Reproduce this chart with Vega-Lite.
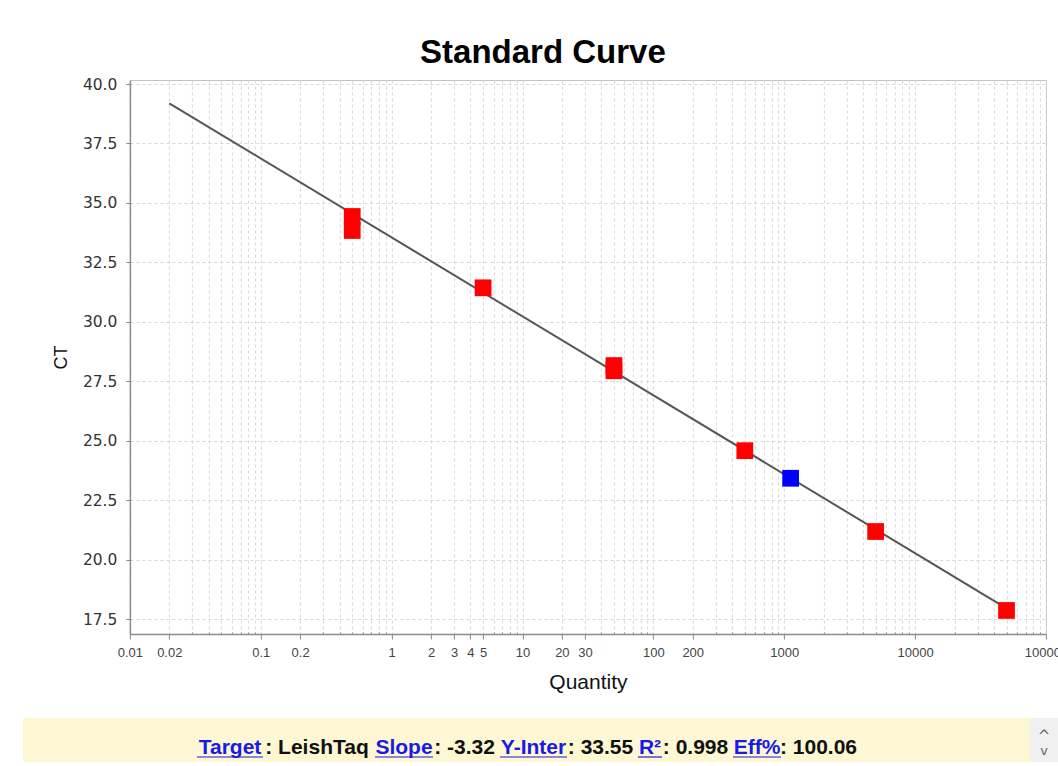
{
  "$schema": "https://vega.github.io/schema/vega-lite/v6.json",
  "padding": {"left": 23, "top": 36, "right": 0, "bottom": 0},
  "background": "white",
  "config": {
    "view": {"stroke": null},
    "font": "Liberation Sans"
  },
  "datasets": {
    "fit": [
      {"quantity": 0.02, "ct": 39.19},
      {"quantity": 50000, "ct": 17.95}
    ],
    "wells": [
      {"quantity": 0.5, "ct": 34.43, "role": "Standard"},
      {"quantity": 0.5, "ct": 33.84, "role": "Standard"},
      {"quantity": 5, "ct": 31.43, "role": "Standard"},
      {"quantity": 50, "ct": 28.16, "role": "Standard"},
      {"quantity": 50, "ct": 27.94, "role": "Standard"},
      {"quantity": 500, "ct": 24.58, "role": "Standard"},
      {"quantity": 5000, "ct": 21.18, "role": "Standard"},
      {"quantity": 50000, "ct": 17.86, "role": "Standard"},
      {"quantity": 1120, "ct": 23.42, "role": "Unknown"}
    ],
    "stats": [
      {"key": "Target", "value": "LeishTaq"},
      {"key": "Slope", "value": "-3.32"},
      {"key": "Y-Inter", "value": "33.55"},
      {"key": "R²", "value": "0.998"},
      {"key": "Eff%", "value": "100.06"}
    ]
  },
  "spacing": 25,
  "center": true,
  "vconcat": [
    {
      "width": 916,
      "height": 554,
      "view": {"stroke": "#c4c4c4"},
      "title": {
        "text": "Standard Curve",
        "font": "Liberation Sans",
        "fontSize": 33,
        "fontWeight": "bold",
        "color": "#000000",
        "anchor": "middle",
        "frame": "group",
        "baseline": "alphabetic",
        "dx": -45,
        "offset": -19
      },
      "layer": [
        {
          "data": {"name": "fit"},
          "mark": {"type": "line", "color": "#555555", "strokeWidth": 2},
          "encoding": {
            "x": {
              "field": "quantity",
              "type": "quantitative",
              "scale": {"type": "log", "domain": [0.01, 100000], "nice": false},
              "axis": {
                "title": "Quantity",
                "values": [0.01,0.02,0.03,0.04,0.05,0.06,0.07,0.08,0.09,0.1,0.2,0.3,0.4,0.5,0.6,0.7,0.8,0.9,1,2,3,4,5,6,7,8,9,10,20,30,40,50,60,70,80,90,100,200,300,400,500,600,700,800,900,1000,2000,3000,4000,5000,6000,7000,8000,9000,10000,20000,30000,40000,50000,60000,70000,80000,90000,100000],
                "labelExpr": "indexof([0.01,0.02,0.1,0.2,1,2,3,4,5,10,20,30,100,200,1000,10000,100000], datum.value) >= 0 ? '' + datum.value : ''",
                "labelOverlap": false,
                "labelFlush": false,
                "labelBound": false,
                "labelFont": "Liberation Sans",
                "labelFontSize": 13,
                "labelColor": "#444444",
                "labelPadding": 7,
                "tickColor": "#888888",
                "tickSize": {
                  "condition": {"test": "indexof([0.01,0.02,0.1,0.2,1,2,3,4,5,10,20,30,100,200,1000,10000,100000], datum.value) >= 0", "value": 5},
                  "value": -2
                },
                "domainColor": "#8c8c8c",
                "domainWidth": 1.5,
                "grid": true,
                "gridColor": "#d6d6d6",
                "gridDash": [3, 3],
                "gridWidth": 1,
                "titleFont": "Liberation Sans",
                "titleFontSize": 21,
                "titleFontWeight": "normal",
                "titleColor": "#111111",
                "titlePadding": 12
              }
            },
            "y": {
              "field": "ct",
              "type": "quantitative",
              "scale": {"domain": [16.87, 40.17], "nice": false, "zero": false},
              "axis": {
                "title": "CT",
                "values": [17.5, 20, 22.5, 25, 27.5, 30, 32.5, 35, 37.5, 40],
                "format": ".1f",
                "labelFont": "DejaVu Sans",
                "labelFontSize": 15.5,
                "labelColor": "#333333",
                "labelPadding": 9,
                "tickSize": 4,
                "tickColor": "#888888",
                "domainColor": "#8c8c8c",
                "domainWidth": 1.5,
                "grid": true,
                "gridColor": "#d6d6d6",
                "gridDash": [3, 3],
                "gridWidth": 1,
                "titleFont": "Liberation Sans",
                "titleFontSize": 18,
                "titleFontWeight": "normal",
                "titleColor": "#111111",
                "titlePadding": 12
              }
            }
          }
        },
        {
          "data": {"name": "wells"},
          "mark": {"type": "point", "shape": "square", "filled": true, "opacity": 1, "size": 280, "strokeWidth": 0},
          "encoding": {
            "x": {"field": "quantity", "type": "quantitative"},
            "y": {"field": "ct", "type": "quantitative"},
            "color": {
              "field": "role",
              "type": "nominal",
              "scale": {"domain": ["Standard", "Unknown"], "range": ["#ff0000", "#0000ff"]},
              "legend": null
            }
          }
        }
      ]
    },
    {
      "spacing": 0,
      "bounds": "flush",
      "hconcat": [
        {
          "width": 174, "height": 44,
          "view": {"fill": "#fdf7d3", "stroke": null},
          "data": {"values": [{}]},
          "mark": {"type": "text", "text": ""}
        },
        {
          "width": 66, "height": 44,
          "view": {"fill": "#fdf7d3", "stroke": null},
          "data": {"name": "stats"},
          "transform": [{"filter": "datum.key === 'Target'"}],
          "layer": [
            {"mark": {"type": "text", "baseline": "alphabetic", "dy": 14, "fontSize": 21, "fontWeight": "bold", "color": "#1a1ae6"}, "encoding": {"text": {"field": "key"}}},
            {"mark": {"type": "rule", "color": "#1a1ae6", "strokeWidth": 1.2}, "encoding": {"y": {"value": 39}}}
          ]
        },
        {
          "width": 112, "height": 44,
          "view": {"fill": "#fdf7d3", "stroke": null},
          "data": {"name": "stats"},
          "transform": [{"filter": "datum.key === 'Target'"}],
          "mark": {"type": "text", "baseline": "alphabetic", "dx": -2, "dy": 14, "fontSize": 21, "fontWeight": "bold", "color": "#111111", "text": {"expr": "': ' + datum.value + '\u00a0'"}}
        },
        {
          "width": 58, "height": 44,
          "view": {"fill": "#fdf7d3", "stroke": null},
          "data": {"name": "stats"},
          "transform": [{"filter": "datum.key === 'Slope'"}],
          "layer": [
            {"mark": {"type": "text", "baseline": "alphabetic", "dy": 14, "fontSize": 21, "fontWeight": "bold", "color": "#1a1ae6"}, "encoding": {"text": {"field": "key"}}},
            {"mark": {"type": "rule", "color": "#1a1ae6", "strokeWidth": 1.2}, "encoding": {"y": {"value": 39}}}
          ]
        },
        {
          "width": 67, "height": 44,
          "view": {"fill": "#fdf7d3", "stroke": null},
          "data": {"name": "stats"},
          "transform": [{"filter": "datum.key === 'Slope'"}],
          "mark": {"type": "text", "baseline": "alphabetic", "dx": -2, "dy": 14, "fontSize": 21, "fontWeight": "bold", "color": "#111111", "text": {"expr": "': ' + datum.value + '\u00a0'"}}
        },
        {
          "width": 67, "height": 44,
          "view": {"fill": "#fdf7d3", "stroke": null},
          "data": {"name": "stats"},
          "transform": [{"filter": "datum.key === 'Y-Inter'"}],
          "layer": [
            {"mark": {"type": "text", "baseline": "alphabetic", "dy": 14, "fontSize": 21, "fontWeight": "bold", "color": "#1a1ae6"}, "encoding": {"text": {"field": "key"}}},
            {"mark": {"type": "rule", "color": "#1a1ae6", "strokeWidth": 1.2}, "encoding": {"y": {"value": 39}}}
          ]
        },
        {
          "width": 71, "height": 44,
          "view": {"fill": "#fdf7d3", "stroke": null},
          "data": {"name": "stats"},
          "transform": [{"filter": "datum.key === 'Y-Inter'"}],
          "mark": {"type": "text", "baseline": "alphabetic", "dx": -2, "dy": 14, "fontSize": 21, "fontWeight": "bold", "color": "#111111", "text": {"expr": "': ' + datum.value + '\u00a0'"}}
        },
        {
          "width": 24, "height": 44,
          "view": {"fill": "#fdf7d3", "stroke": null},
          "data": {"name": "stats"},
          "transform": [{"filter": "datum.key === 'R²'"}],
          "layer": [
            {"mark": {"type": "text", "baseline": "alphabetic", "dy": 14, "fontSize": 21, "fontWeight": "bold", "color": "#1a1ae6"}, "encoding": {"text": {"field": "key"}}},
            {"mark": {"type": "rule", "color": "#1a1ae6", "strokeWidth": 1.2}, "encoding": {"y": {"value": 39}}}
          ]
        },
        {
          "width": 71, "height": 44,
          "view": {"fill": "#fdf7d3", "stroke": null},
          "data": {"name": "stats"},
          "transform": [{"filter": "datum.key === 'R²'"}],
          "mark": {"type": "text", "baseline": "alphabetic", "dx": -2, "dy": 14, "fontSize": 21, "fontWeight": "bold", "color": "#111111", "text": {"expr": "': ' + datum.value + '\u00a0'"}}
        },
        {
          "width": 48, "height": 44,
          "view": {"fill": "#fdf7d3", "stroke": null},
          "data": {"name": "stats"},
          "transform": [{"filter": "datum.key === 'Eff%'"}],
          "layer": [
            {"mark": {"type": "text", "baseline": "alphabetic", "dy": 14, "fontSize": 21, "fontWeight": "bold", "color": "#1a1ae6"}, "encoding": {"text": {"field": "key"}}},
            {"mark": {"type": "rule", "color": "#1a1ae6", "strokeWidth": 1.2}, "encoding": {"y": {"value": 39}}}
          ]
        },
        {
          "width": 79, "height": 44,
          "view": {"fill": "#fdf7d3", "stroke": null},
          "data": {"name": "stats"},
          "transform": [{"filter": "datum.key === 'Eff%'"}],
          "mark": {"type": "text", "baseline": "alphabetic", "dx": -2, "dy": 14, "fontSize": 21, "fontWeight": "bold", "color": "#111111", "text": {"expr": "': ' + datum.value"}}
        },
        {
          "width": 170, "height": 44,
          "view": {"fill": "#fdf7d3", "stroke": null},
          "data": {"values": [{}]},
          "mark": {"type": "text", "text": ""}
        },
        {
          "width": 28, "height": 44,
          "view": {"fill": "#f0f0f0", "stroke": null},
          "data": {"values": [{}]},
          "layer": [
            {"mark": {"type": "text", "text": "^", "baseline": "alphabetic", "dy": 1, "font": "DejaVu Sans", "fontSize": 15, "color": "#666666"}},
            {"mark": {"type": "text", "text": "v", "baseline": "alphabetic", "dy": 15, "font": "DejaVu Sans", "fontSize": 13, "color": "#666666"}}
          ]
        },
        {
          "width": 117, "height": 44,
          "data": {"values": [{}]},
          "mark": {"type": "text", "text": ""}
        }
      ]
    }
  ]
}
